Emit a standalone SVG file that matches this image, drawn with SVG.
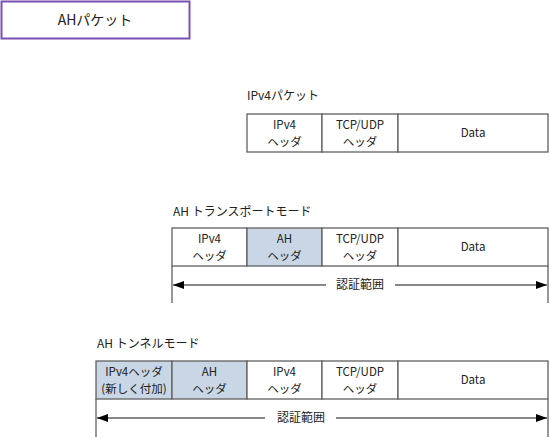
<svg xmlns="http://www.w3.org/2000/svg" width="550" height="438" viewBox="0 0 550 438">
<defs>
<style>
text{font-family:"Noto Sans CJK JP","Noto Sans",sans-serif;font-size:11.5px;fill:#222;}
.c{text-anchor:middle;}
.cell{fill:#fff;stroke:#606060;stroke-width:1.3;}
.ah{fill:#c9d6e5;stroke:#606060;stroke-width:1.3;}
.ln{stroke:#606060;stroke-width:1.3;fill:none;}
.arr{stroke:#606060;stroke-width:1.3;fill:none;}
</style>
<marker id="ah" viewBox="0 0 11 8" refX="11" refY="4" markerWidth="11" markerHeight="8" markerUnits="userSpaceOnUse" orient="auto-start-reverse">
<path d="M0,0 L11,4 L0,8 Z" fill="#000"/>
</marker>
</defs>
<rect width="550" height="438" fill="#fff"/>

<g id="title">
<rect x="1.5" y="1.5" width="188" height="37" fill="#fff" stroke="#7b4fb3" stroke-width="2"/>
<text x="95" y="25" class="c" style="font-size:14px">AHパケット</text>
</g>

<g id="ipv4-packet">
<text x="247" y="100" style="font-size:12px">IPv4パケット</text>
<rect class="cell" x="247" y="114" width="75" height="38"/>
<rect class="cell" x="322" y="114" width="76" height="38"/>
<rect class="cell" x="398" y="114" width="150" height="38"/>
<text x="284.5" y="129" class="c">IPv4</text><text x="284.5" y="146" class="c">ヘッダ</text>
<text x="360" y="129" class="c">TCP/UDP</text><text x="360" y="146" class="c">ヘッダ</text>
<text x="473" y="137" class="c">Data</text>
</g>

<g id="transport-mode">
<text x="173" y="216" style="font-size:12px">AH トランスポートモード</text>
<rect class="cell" x="172" y="228" width="75" height="38"/>
<rect class="ah" x="247" y="228" width="75" height="38"/>
<rect class="cell" x="322" y="228" width="76" height="38"/>
<rect class="cell" x="398" y="228" width="150" height="38"/>
<text x="209.5" y="243" class="c">IPv4</text><text x="209.5" y="260" class="c">ヘッダ</text>
<text x="284.5" y="243" class="c">AH</text><text x="284.5" y="260" class="c">ヘッダ</text>
<text x="360" y="243" class="c">TCP/UDP</text><text x="360" y="260" class="c">ヘッダ</text>
<text x="473" y="251" class="c">Data</text>
<text x="360" y="289" class="c" style="font-size:12px">認証範囲</text>
</g>

<g id="tunnel-mode">
<text x="97" y="348" style="font-size:12px">AH トンネルモード</text>
<rect class="ah" x="96" y="361" width="76" height="38"/>
<rect class="ah" x="172" y="361" width="75" height="38"/>
<rect class="cell" x="247" y="361" width="75" height="38"/>
<rect class="cell" x="322" y="361" width="76" height="38"/>
<rect class="cell" x="398" y="361" width="150" height="38"/>
<text x="134" y="376" class="c">IPv4ヘッダ</text><text x="134" y="393" class="c">(新しく付加)</text>
<text x="209.5" y="376" class="c">AH</text><text x="209.5" y="393" class="c">ヘッダ</text>
<text x="284.5" y="376" class="c">IPv4</text><text x="284.5" y="393" class="c">ヘッダ</text>
<text x="360" y="376" class="c">TCP/UDP</text><text x="360" y="393" class="c">ヘッダ</text>
<text x="473" y="384" class="c">Data</text>
<text x="301" y="422" class="c" style="font-size:12px">認証範囲</text>
</g>

<g id="connectors">
<line class="ln" x1="172" y1="266" x2="172" y2="303"/>
<line class="ln" x1="548" y1="266" x2="548" y2="303"/>
<line class="arr" x1="326" y1="285" x2="173" y2="285" marker-end="url(#ah)"/>
<line class="arr" x1="395" y1="285" x2="547" y2="285" marker-end="url(#ah)"/>
<line class="ln" x1="96" y1="399" x2="96" y2="437"/>
<line class="ln" x1="548" y1="399" x2="548" y2="437"/>
<line class="arr" x1="265" y1="418" x2="97" y2="418" marker-end="url(#ah)"/>
<line class="arr" x1="336" y1="418" x2="547" y2="418" marker-end="url(#ah)"/>
</g>
</svg>
